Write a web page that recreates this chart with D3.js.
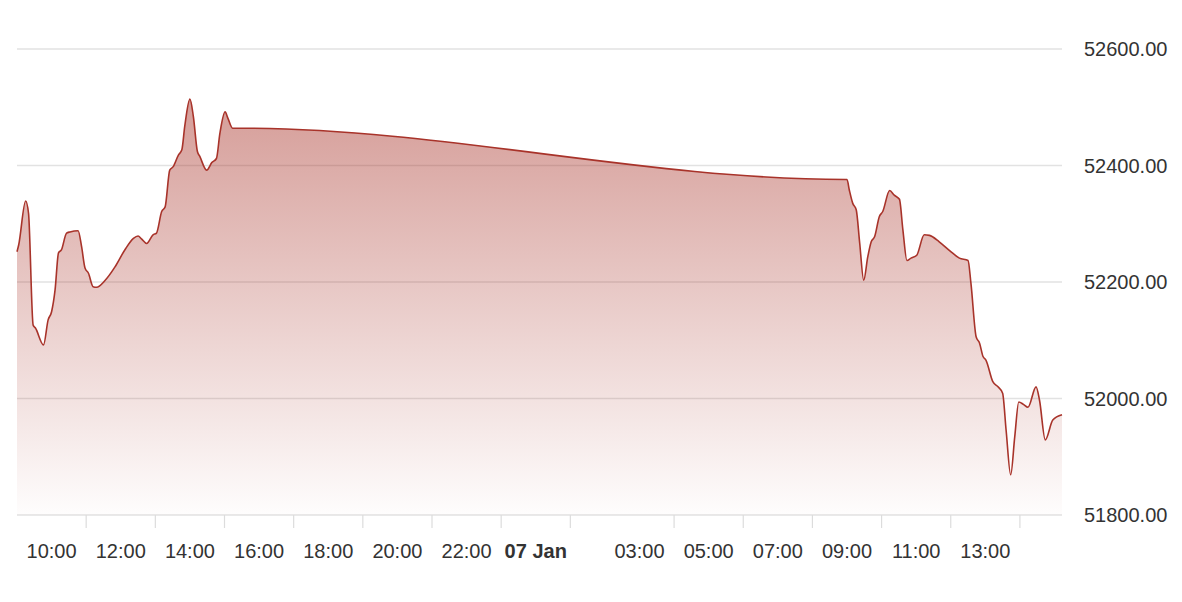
<!DOCTYPE html>
<meta charset="utf-8">
<style>
  body {
    margin: 0;
    background: #fff;
    font-family: "Liberation Sans", Arial, Helvetica, sans-serif;
  }

  #chart {
    width: 1182px;
    height: 602px;
    display: block;
  }

  .grid line {
    stroke: #e2e2e2;
    stroke-width: 1.5;
  }

  text {
    fill: #333;
    font-size: 20px;
  }
</style>
<body>
  <svg id="chart"></svg>
</body>

<script src="https://d3js.org/d3.v7.min.js"></script>
<script>

// Day 1 (06 Jan) session
var day1Times = ["09:00", "09:03", "09:15", "09:20", "09:28", "09:32", "09:46", "09:54", "10:00", "10:06",
  "10:12", "10:17", "10:26", "10:32", "10:46", "10:52", "10:58", "11:04", "11:12", "11:18",
  "11:33", "11:50", "12:07", "12:22", "12:30", "12:36", "12:45", "12:56", "13:02", "13:11",
  "13:17", "13:25", "13:31", "13:40", "13:46", "13:51", "14:00", "14:06", "14:13", "14:17",
  "14:29", "14:38", "14:46", "14:52", "15:01", "15:06", "15:14", "15:29"];
var day1Values = [52252, 52264, 52339, 52318, 52126, 52121, 52092, 52135, 52149, 52186,
  52250, 52255, 52284, 52286, 52288, 52261, 52224, 52215, 52192, 52191,
  52203, 52226, 52255, 52275, 52279, 52274, 52266, 52281, 52284, 52321,
  52329, 52392, 52398, 52418, 52427, 52467, 52514, 52484, 52424, 52416,
  52392, 52405, 52412, 52455, 52492, 52481, 52464, 52464];

// Day 2 (07 Jan) session
var day2Times = ["08:58", "09:00", "09:04", "09:10", "09:16", "09:22", "09:29", "09:36", "09:42", "09:48",
  "09:56", "10:02", "10:14", "10:22", "10:31", "10:37", "10:44", "10:51", "11:01", "11:14",
  "11:23", "11:40", "11:58", "12:15", "12:30", "12:35", "12:44", "12:50", "12:56", "13:01",
  "13:13", "13:22", "13:30", "13:36", "13:44", "13:51", "13:58", "14:06", "14:14", "14:28",
  "14:34", "14:44", "14:57", "15:13"];
var day2Values = [52376, 52376, 52358, 52335, 52324, 52267, 52203, 52243, 52269, 52278,
  52312, 52321, 52357, 52349, 52342, 52289, 52237, 52241, 52246, 52281,
  52280, 52269, 52254, 52241, 52237, 52198, 52106, 52095, 52072, 52066,
  52029, 52020, 52009, 51946, 51869, 51934, 51994, 51990, 51985, 52020,
  51997, 51929, 51963, 51972];

var yTicks = [51800, 52000, 52200, 52400, 52600];

var xLabels = ["2025-01-06 10:00", "2025-01-06 12:00", "2025-01-06 14:00", "2025-01-06 16:00",
  "2025-01-06 18:00", "2025-01-06 20:00", "2025-01-06 22:00", "2025-01-07 00:00",
  "2025-01-07 03:00", "2025-01-07 05:00", "2025-01-07 07:00", "2025-01-07 09:00",
  "2025-01-07 11:00", "2025-01-07 13:00"];
// tick marks sit one hour after each label
var xTickMarks = ["2025-01-06 11:00", "2025-01-06 13:00", "2025-01-06 15:00", "2025-01-06 17:00",
  "2025-01-06 19:00", "2025-01-06 21:00", "2025-01-06 23:00", "2025-01-07 01:00",
  "2025-01-07 04:00", "2025-01-07 06:00", "2025-01-07 08:00", "2025-01-07 10:00",
  "2025-01-07 12:00", "2025-01-07 14:00"];

var parse = d3.timeParse("%Y-%m-%d %H:%M");

var data = [];
day1Times.forEach(function (t, i) { data.push({ date: parse("2025-01-06 " + t), value: day1Values[i] }); });
day2Times.forEach(function (t, i) { data.push({ date: parse("2025-01-07 " + t), value: day2Values[i] }); });

// plot box (window.top is read-only, so keep these names apart)
var plotLeft = 17, plotRight = 1062, plotTop = 49, plotBottom = 515;

var svg = d3.select("#chart");

var x = d3.scaleTime()
  .domain([parse("2025-01-06 09:00"), parse("2025-01-07 15:13")])
  .range([plotLeft, plotRight]);

var y = d3.scaleLinear()
  .domain([51800, 52600])
  .range([plotBottom, plotTop]);

// gradient for the area
var defs = svg.append("defs");
var grad = defs.append("linearGradient")
  .attr("id", "fillGrad")
  .attr("gradientUnits", "userSpaceOnUse")
  .attr("x1", 0).attr("x2", 0)
  .attr("y1", y(52514)).attr("y2", plotBottom);
grad.append("stop").attr("offset", 0).attr("stop-color", "#a83228").attr("stop-opacity", 0.48);
grad.append("stop").attr("offset", 1).attr("stop-color", "#a83228").attr("stop-opacity", 0.01);

// horizontal grid
svg.append("g").attr("class", "grid")
  .selectAll("line").data(yTicks).enter().append("line")
  .attr("x1", plotLeft).attr("x2", plotRight)
  .attr("y1", function (d) { return y(d); })
  .attr("y2", function (d) { return y(d); });

var area = d3.area()
  .curve(d3.curveMonotoneX)
  .x(function (d) { return x(d.date); })
  .y0(plotBottom)
  .y1(function (d) { return y(d.value); });

var line = d3.line()
  .curve(d3.curveMonotoneX)
  .x(function (d) { return x(d.date); })
  .y(function (d) { return y(d.value); });

svg.append("path").datum(data)
  .attr("d", area)
  .attr("fill", "url(#fillGrad)");

svg.append("path").datum(data)
  .attr("d", line)
  .attr("fill", "none")
  .attr("stroke", "#a8332a")
  .attr("stroke-width", 1.6);

// x axis ticks
svg.append("g")
  .selectAll("line").data(xTickMarks).enter().append("line")
  .attr("x1", function (d) { return x(parse(d)); })
  .attr("x2", function (d) { return x(parse(d)); })
  .attr("y1", plotBottom).attr("y2", plotBottom + 13)
  .attr("stroke", "#dcdcdc")
  .attr("stroke-width", 1.2);

var dayFmt = d3.timeFormat("%d %b"), hourFmt = d3.timeFormat("%H:%M");
svg.append("g")
  .selectAll("text").data(xLabels).enter().append("text")
  .attr("x", function (d) { return x(parse(d)); })
  .attr("y", 558)
  .attr("text-anchor", "middle")
  .style("font-weight", function (d) { return parse(d).getHours() === 0 ? "bold" : null; })
  .text(function (d) {
    var t = parse(d);
    return t.getHours() === 0 ? dayFmt(t) : hourFmt(t);
  });

// y labels on the right
svg.append("g")
  .selectAll("text").data(yTicks).enter().append("text")
  .attr("x", 1084)
  .attr("y", function (d) { return y(d); })
  .attr("dy", "0.35em")
  .text(function (d) { return d.toFixed(2); });

</script>
